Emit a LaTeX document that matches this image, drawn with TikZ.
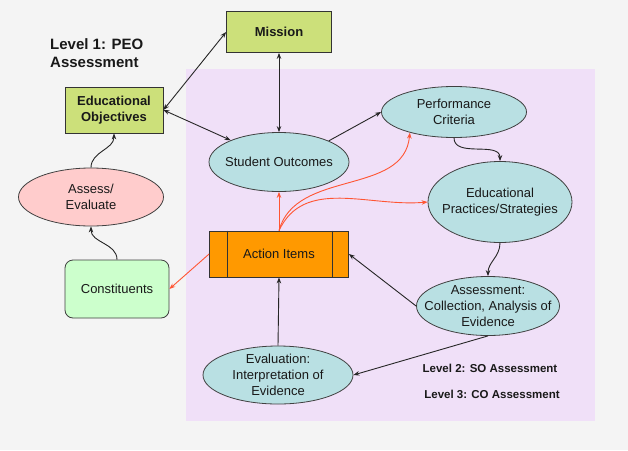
\documentclass[tikz,border=0pt]{standalone}
\usepackage{fontspec}
\setmainfont{Liberation Sans}
\usetikzlibrary{shapes.geometric, arrows, arrows.meta, positioning, shapes}
\definecolor{bggray}{RGB}{244,244,244}
\definecolor{lilac}{RGB}{240,224,248}
\definecolor{goalgreen}{RGB}{204,224,122}
\definecolor{bubblecyan}{RGB}{185,224,227}
\definecolor{actionorange}{RGB}{255,153,0}
\definecolor{mintfill}{RGB}{204,255,204}
\definecolor{pinkfill}{RGB}{255,204,204}
\definecolor{arrowred}{RGB}{255,85,51}
\tikzstyle{goalbox} = [rectangle, draw=black!80, line width=0.8pt, fill=goalgreen, align=center, font=\bfseries\fontsize{13}{16}\selectfont]
\tikzstyle{bubble} = [ellipse, draw=black!75, line width=0.8pt, fill=bubblecyan, inner sep=0pt]
\tikzstyle{actionbox} = [rectangle, draw=black!80, line width=0.8pt, fill=actionorange]
\tikzstyle{groupbox} = [rectangle, rounded corners=8pt, draw=black!75, line width=0.8pt, fill=mintfill]
\tikzstyle{heading} = [align=left, inner sep=0pt, font=\bfseries\fontsize{15}{18}\selectfont]
\tikzstyle{subheading} = [inner sep=0pt, font=\bfseries\fontsize{11.5}{14}\selectfont]
\tikzstyle{arrow} = [line width=0.9pt, draw=black!85, ->, >={Stealth[length=6pt, width=4.5pt]}]
\tikzstyle{biarrow} = [arrow, <->]
\tikzstyle{redarrow} = [line width=0.9pt, draw=arrowred, ->, >={Stealth[length=6pt, width=4.5pt]}]

\begin{document}
\begin{tikzpicture}[x=1pt, y=1pt, font=\fontsize{13}{16}\selectfont, text=black!90]
\useasboundingbox (0,0) rectangle (628,-450);
\fill [bggray] (0,0) rectangle (628,-450);
\fill [lilac] (186,-69) rectangle (595,-421);

% level 1
\node (mission) [goalbox, minimum width=105pt, minimum height=41pt] at (279,-32) {Mission};
\node (objectives) [goalbox, minimum width=98pt, minimum height=46pt] at (114,-110) {Educational\\Objectives};
\node (levelone) [heading, anchor=west] at (50,-53) {Level 1: PEO\\Assessment};
\node (assessevaluate) [bubble, fill=pinkfill, minimum width=145pt, minimum height=58pt, label={[align=center]center:Assess/\\Evaluate}] at (91,-197) {};
\node (constituents) [groupbox, minimum width=104pt, minimum height=58pt] at (117,-289) {Constituents};

% levels 2 and 3
\node (outcomes) [bubble, minimum width=140pt, minimum height=59pt, label={center:Student Outcomes}] at (279,-162) {};
\node (criteria) [bubble, minimum width=145pt, minimum height=51pt, label={[align=center]center:Performance\\Criteria}] at (454,-112) {};
\node (practices) [bubble, minimum width=144pt, minimum height=81pt, label={[align=center]center:Educational\\Practices/Strategies}] at (500,-202) {};
\node (assessment) [bubble, minimum width=143pt, minimum height=59pt, label={[align=center]center:Assessment:\\Collection, Analysis of\\Evidence}] at (488,-306) {};
\node (evaluation) [bubble, minimum width=150pt, minimum height=58pt, label={[align=center]center:Evaluation:\\Interpretation of\\Evidence}] at (278,-375) {};
\node (actions) [actionbox, minimum width=139pt, minimum height=46pt] at (279,-254) {Action Items};
\draw [draw=black!80, line width=0.8pt] ([xshift=18pt]actions.north west) -- ([xshift=18pt]actions.south west);
\draw [draw=black!80, line width=0.8pt] ([xshift=-17pt]actions.north east) -- ([xshift=-17pt]actions.south east);
\node (leveltwo) [subheading] at (490,-368) {Level 2: SO Assessment};
\node (levelthree) [subheading] at (492,-394) {Level 3: CO Assessment};

% connectors
\draw [biarrow] (mission.west) -- (objectives.east);
\draw [biarrow] (mission.south) -- (outcomes.north);
\draw [biarrow] (objectives.east) -- (outcomes);
\draw [arrow] (outcomes.north east) -- (criteria.west);
\draw [arrow] (criteria.south) to[out=-90, in=90] (practices.north);
\draw [arrow] (practices.south) to[out=-90, in=90] (assessment.north);
\draw [arrow] (assessment.west) -- (actions.east);
\draw [arrow] (assessment.south) -- (evaluation.east);
\draw [arrow] (evaluation.north) -- (actions.south);
\draw [arrow] (constituents.north) to[out=90, in=-90] (assessevaluate.south);
\draw [arrow] (assessevaluate.north) to[out=90, in=-90] (objectives.south);
\draw [redarrow] (actions.north) -- (outcomes.south);
\draw [redarrow] (actions.north) to[out=75, in=-95] (criteria.205);
\draw [redarrow] (actions.north) to[out=65, in=185] (practices.west);
\draw [redarrow] (actions.west) -- (constituents.east);
\end{tikzpicture}
\end{document}
